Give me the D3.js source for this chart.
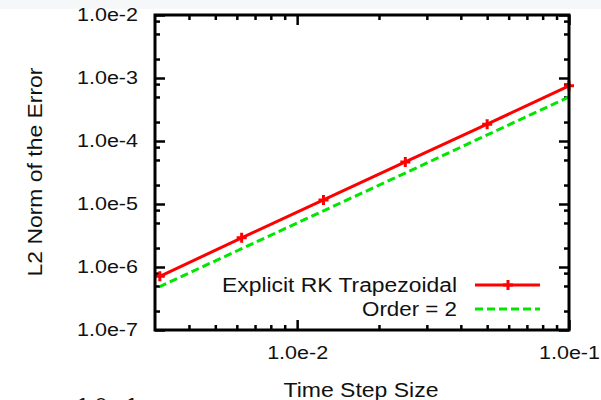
<!DOCTYPE html>
<html lang="en">
<head>
<meta charset="UTF-8">
<title>Convergence plot</title>
<script src="https://d3js.org/d3.v7.min.js"></script>
<style>
    body { margin: 0; background: #fff; }
    svg { display: block; font-family: "Liberation Sans", Arial, sans-serif; }
    .tick text { font-size: 18px; fill: #111; }
    .axis-label { font-size: 20px; fill: #111; }
    .legend text { font-size: 20px; fill: #111; }
</style>
</head>
<body>
<svg id="svg" width="601" height="400"></svg>
<script>
    // data
    const stepSizes = [0.1, 0.05, 0.025, 0.0125, 0.00625, 0.003125];
    const errorRK = [7.5e-4, 1.85e-4, 4.65e-5, 1.16e-5, 2.9e-6, 7.1e-7];
    const errorOrder2 = [5.0e-4, 1.25e-4, 3.1e-5, 7.8e-6, 1.95e-6, 4.9e-7];

    // tick labels
    const xMajor = [1e-2, 1e-1];
    const yMajor = [1e-7, 1e-6, 1e-5, 1e-4, 1e-3, 1e-2];
    const xMinorMult = [2, 3, 4, 5, 6, 7, 8, 9];
    const yMinorMult = [2, 5, 8];

    const seriesNames = ["Explicit RK Trapezoidal", "Order = 2"];

    const width = 601, height = 400;
    const margin = { top: 15, right: 32, bottom: 70, left: 155 };
    const x0 = margin.left, x1 = width - margin.right;
    const y0 = margin.top, y1 = height - margin.bottom;

    const svg = d3.select("#svg");

    // faint grey band at the top like the reference
    svg.append("rect").attr("x", 0).attr("y", 0).attr("width", width).attr("height", 9)
        .attr("fill", "#f6f7f9");

    const x = d3.scaleLog().domain([0.003, 0.1]).range([x0, x1]);
    const y = d3.scaleLog().domain([1e-7, 1e-2]).range([y1, y0]);

    const fmt = d => d.toExponential(1);

    // minor tick values
    const xMinor = [];
    [1e-3, 1e-2].forEach(dec => xMinorMult.forEach(m => {
        const v = dec * m;
        if (v > 0.003 && v < 0.1) xMinor.push(v);
    }));
    const yMinor = [];
    yMajor.slice(0, -1).forEach(dec => yMinorMult.forEach(m => yMinor.push(dec * m)));

    function drawAxis(axis, tx, ty, cls) {
        const g = svg.append("g").attr("class", cls).attr("transform", `translate(${tx},${ty})`).call(axis);
        g.select(".domain").remove();
        g.selectAll(".tick line").attr("stroke", "#000").attr("stroke-width", 2.5);
        // the reference glyphs are a bit wider than Liberation Sans
        g.selectAll(".tick text").attr("textLength", 61).attr("lengthAdjust", "spacingAndGlyphs");
        return g;
    }

    // major ticks with labels
    drawAxis(d3.axisLeft(y).tickValues(yMajor).tickSizeInner(-10).tickSizeOuter(0).tickPadding(17).tickFormat(fmt), x0, 0, "y-axis");
    drawAxis(d3.axisBottom(x).tickValues(xMajor).tickSizeInner(-10).tickSizeOuter(0).tickPadding(16).tickFormat(fmt), 0, y1, "x-axis");
    // mirrored majors
    drawAxis(d3.axisRight(y).tickValues(yMajor).tickSizeInner(-10).tickSizeOuter(0).tickFormat(""), x1, 0, "y-axis2");
    drawAxis(d3.axisTop(x).tickValues(xMajor).tickSizeInner(-10).tickSizeOuter(0).tickFormat(""), 0, y0, "x-axis2");
    // minor ticks
    drawAxis(d3.axisLeft(y).tickValues(yMinor).tickSizeInner(-5).tickSizeOuter(0).tickFormat(""), x0, 0, "y-minor");
    drawAxis(d3.axisRight(y).tickValues(yMinor).tickSizeInner(-5).tickSizeOuter(0).tickFormat(""), x1, 0, "y-minor2");
    drawAxis(d3.axisBottom(x).tickValues(xMinor).tickSizeInner(-5).tickSizeOuter(0).tickFormat(""), 0, y1, "x-minor");
    drawAxis(d3.axisTop(x).tickValues(xMinor).tickSizeInner(-5).tickSizeOuter(0).tickFormat(""), 0, y0, "x-minor2");

    // lines
    const line = d3.line().x(d => x(d[0])).y(d => y(d[1]));
    const rkData = stepSizes.map((h, i) => [h, errorRK[i]]);
    const o2Data = stepSizes.map((h, i) => [h, errorOrder2[i]]);

    const plot = svg.append("g");
    plot.append("path").datum(o2Data).attr("d", line)
        .attr("fill", "none").attr("stroke", "#00e600").attr("stroke-width", 3)
        .attr("stroke-dasharray", "8,4");
    plot.append("path").datum(rkData).attr("d", line)
        .attr("fill", "none").attr("stroke", "#ff0000").attr("stroke-width", 3);

    function drawPlus(g, cx, cy) {
        g.append("path")
            .attr("d", `M${cx - 5},${cy}H${cx + 5}M${cx},${cy - 5}V${cy + 5}`)
            .attr("stroke", "#ff0000").attr("stroke-width", 3).attr("fill", "none");
    }
    rkData.forEach(d => drawPlus(plot, x(d[0]), y(d[1])));

    // frame
    svg.append("rect").attr("x", x0).attr("y", y0).attr("width", x1 - x0).attr("height", y1 - y0)
        .attr("fill", "none").attr("stroke", "#000").attr("stroke-width", 3);

    // legend
    const legend = svg.append("g").attr("class", "legend");
    const legY = [285, 309];
    const legW = [235, 95];
    const legStroke = ["#ff0000", "#00e600"];
    seriesNames.forEach((name, i) => {
        legend.append("text").attr("x", 457).attr("y", legY[i]).attr("dy", "0.36em")
            .attr("text-anchor", "end")
            .attr("textLength", legW[i]).attr("lengthAdjust", "spacingAndGlyphs")
            .text(name);
        legend.append("line").attr("x1", 475).attr("x2", 540).attr("y1", legY[i]).attr("y2", legY[i])
            .attr("stroke", legStroke[i]).attr("stroke-width", 3)
            .attr("stroke-dasharray", i ? "8,4" : null);
    });
    drawPlus(legend, 508, legY[0]);

    // axis titles
    svg.append("text").attr("class", "axis-label").attr("x", 361).attr("y", 397)
        .attr("text-anchor", "middle")
        .attr("textLength", 155).attr("lengthAdjust", "spacingAndGlyphs")
        .text("Time Step Size");
    svg.append("text").attr("class", "axis-label")
        .attr("transform", "translate(42,172) rotate(-90)")
        .attr("text-anchor", "middle")
        .attr("textLength", 209).attr("lengthAdjust", "spacingAndGlyphs")
        .text("L2 Norm of the Error");

    // label of the next plot, cut off at the bottom edge as in the reference
    svg.append("text").attr("class", "axis-label").style("font-size", "18px")
        .attr("x", 138).attr("y", 411)
        .attr("text-anchor", "end")
        .attr("textLength", 61).attr("lengthAdjust", "spacingAndGlyphs")
        .text("1.0e-1");
</script>
</body>
</html>
